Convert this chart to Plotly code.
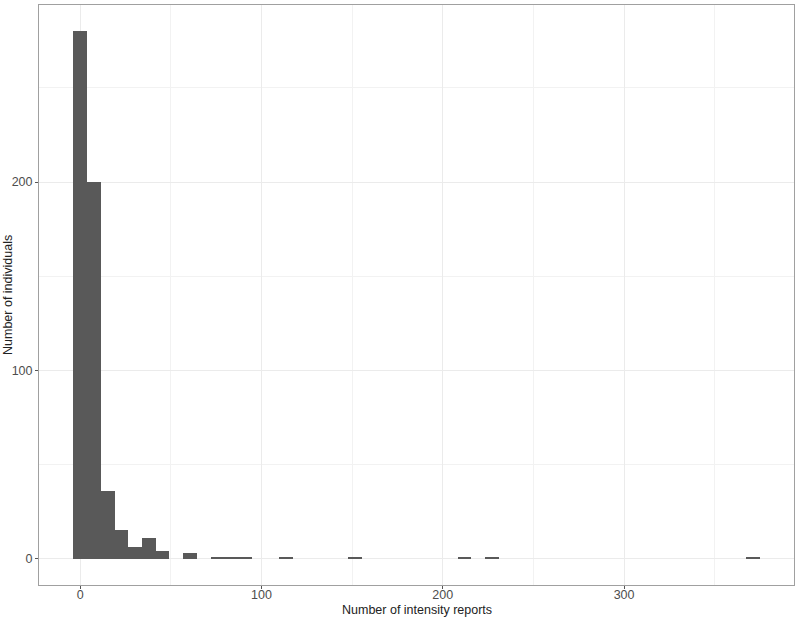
import plotly.graph_objects as go

# Histogram: 50 bins of equal width spanning 0..371 (bin centres at k * width)
data_min = 0
data_max = 371
n_bins = 50
counts = [280, 200, 36, 15, 6, 11, 4, 0, 3, 0,
          1, 1, 1, 0, 0, 1, 0, 0, 0, 0,
          1, 0, 0, 0, 0, 0, 0, 0, 1, 0,
          1, 0, 0, 0, 0, 0, 0, 0, 0, 0,
          0, 0, 0, 0, 0, 0, 0, 0, 0, 1]
x_ticks = [0, 100, 200, 300]
y_ticks = [0, 100, 200]
x_title = "Number of intensity reports"
y_title = "Number of individuals"

bin_width = (data_max - data_min) / (n_bins - 1)
centers = [data_min + k * bin_width for k in range(n_bins)]

fig = go.Figure()
fig.add_trace(go.Bar(
    x=centers, y=counts, width=[bin_width] * n_bins,
    marker=dict(color="#595959", line=dict(width=0)),
    hoverinfo="x+y",
))

lo = data_min - bin_width / 2
hi = data_max + bin_width / 2
xpad = (hi - lo) * 0.05
ymax = max(counts)
ypad = ymax * 0.05

font_family = "Liberation Sans, Arial, sans-serif"
fig.update_layout(
    width=800, height=618,
    margin=dict(l=39, r=6, t=5, b=33, autoexpand=False),
    paper_bgcolor="white", plot_bgcolor="white",
    showlegend=False, bargap=0,
    font=dict(family=font_family, size=13, color="#4D4D4D"),
    annotations=[
        dict(text=x_title, xref="paper", yref="paper", x=0.5, y=0,
             yshift=-25, xanchor="center", yanchor="middle", showarrow=False,
             font=dict(size=12.5, color="#222222")),
        dict(text=y_title, xref="paper", yref="paper", x=0, y=0.5,
             xshift=-31, xanchor="center", yanchor="middle", textangle=-90,
             showarrow=False, font=dict(size=12.5, color="#222222")),
    ],
)
fig.update_xaxes(
    range=[lo - xpad, hi + xpad], automargin=False,
    tickvals=x_ticks, ticktext=[str(v) for v in x_ticks],
    showgrid=True, gridcolor="#EBEBEB", gridwidth=1,
    minor=dict(dtick=50, showgrid=True, gridcolor="#F2F2F2", gridwidth=0.6, ticks=""),
    zeroline=False,
    showline=True, mirror=True, linecolor="#A0A0A0", linewidth=1,
    ticks="outside", ticklen=3, tickcolor="#555555", tickwidth=1,
    ticklabelstandoff=-5,
    tickfont=dict(size=12.5, color="#4D4D4D"),
)
fig.update_yaxes(
    range=[-ypad, ymax + ypad], automargin=False,
    tickvals=y_ticks, ticktext=[str(v) for v in y_ticks],
    showgrid=True, gridcolor="#EBEBEB", gridwidth=1,
    minor=dict(dtick=50, showgrid=True, gridcolor="#F2F2F2", gridwidth=0.6, ticks=""),
    zeroline=False,
    showline=True, mirror=True, linecolor="#A0A0A0", linewidth=1,
    ticks="outside", ticklen=3, tickcolor="#555555", tickwidth=1,
    tickfont=dict(size=12.5, color="#4D4D4D"),
)

fig.write_html("out.html", config={"displayModeBar": False},
               post_script="document.body.style.margin='0';")
